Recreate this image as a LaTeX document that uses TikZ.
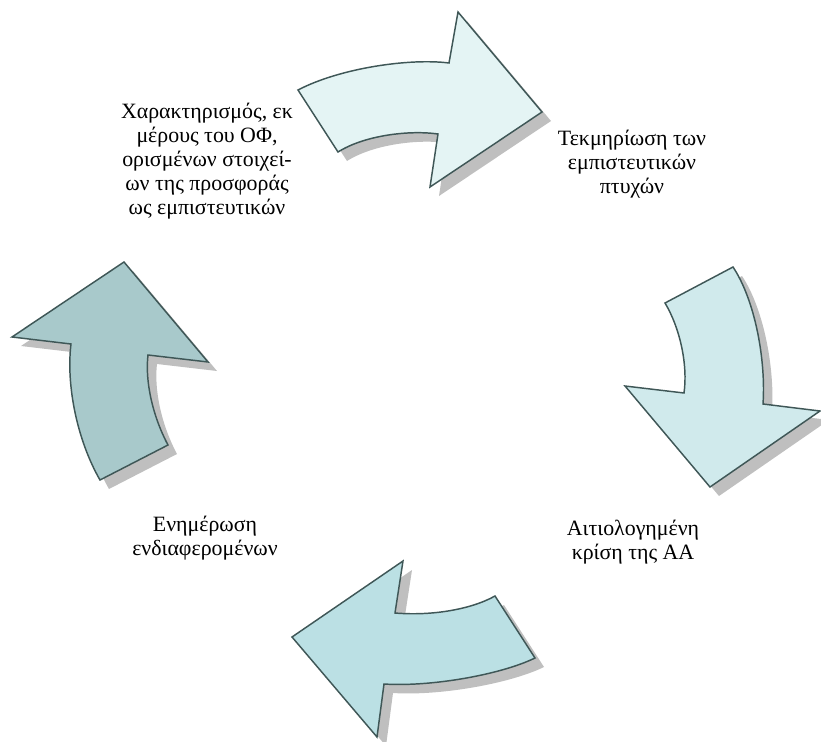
\documentclass[tikz,border=0pt]{standalone}
\usepackage{fontspec}
\setmainfont{Liberation Serif}
\definecolor{arrowline}{HTML}{3F5757}
\definecolor{fillone}{HTML}{E4F4F4}
\definecolor{filltwo}{HTML}{D0EAEC}
\definecolor{fillthree}{HTML}{BBE0E4}
\definecolor{fillfour}{HTML}{A8C9CB}
\definecolor{shadowgray}{HTML}{BFBFBF}

\begin{document}
\begin{tikzpicture}[x=0.75pt,y=-0.75pt]
  \tikzstyle{cyclearrow}=[draw=arrowline,line width=1.1pt,preaction={fill=shadowgray,transform canvas={xshift=6.75pt,yshift=-6.75pt}}]
  \tikzstyle{phase}=[align=center,font=\fontsize{16.4}{18}\selectfont]

  \useasboundingbox (0,0) rectangle (821,742);

  % Top arrow.
  \path [cyclearrow,fill=fillone] (298,90) .. controls (340,68) and (410,58) .. (449,63)
    -- (458,12) -- (542,112) -- (430,187) -- (438,134)
    .. controls (410,130) and (365,135) .. (338,152) -- cycle;

  % Right arrow.
  \path [cyclearrow,fill=filltwo] (733,267) -- (665,303)
    .. controls (680,328) and (688,365) .. (684,393)
    -- (625,386) -- (710,487) -- (820,411) -- (763,404)
    .. controls (766,360) and (755,300) .. (733,267) -- cycle;

  % Bottom arrow.
  \path [cyclearrow,fill=fillthree] (495,596) -- (535,658)
    .. controls (500,675) and (430,687) .. (384,684)
    -- (377,737) -- (292,637) -- (403,561) -- (395,613)
    .. controls (430,616) and (470,610) .. (495,596) -- cycle;

  % Left arrow.
  \path [cyclearrow,fill=fillfour] (100,480) -- (168,445)
    .. controls (152,415) and (145,380) .. (148,355)
    -- (208,362) -- (124,262) -- (12,337) -- (71,344)
    .. controls (66,385) and (77,440) .. (100,480) -- cycle;

  % Texts.
  \node [phase] (charact) at (207,161) {Χαρακτηρισμός, εκ\\ μέρους του ΟΦ,\\ ορισμένων στοιχεί-\\ ων της προσφοράς\\ ως εμπιστευτικών};
  \node [phase] (tekm) at (632,164) {Τεκμηρίωση των\\ εμπιστευτικών\\ πτυχών};
  \node [phase] (aitiol) at (633,542) {Αιτιολογημένη\\ κρίση της ΑΑ};
  \node [phase] (enim) at (205,538) {Ενημέρωση\\ ενδιαφερομένων};
\end{tikzpicture}
\end{document}
